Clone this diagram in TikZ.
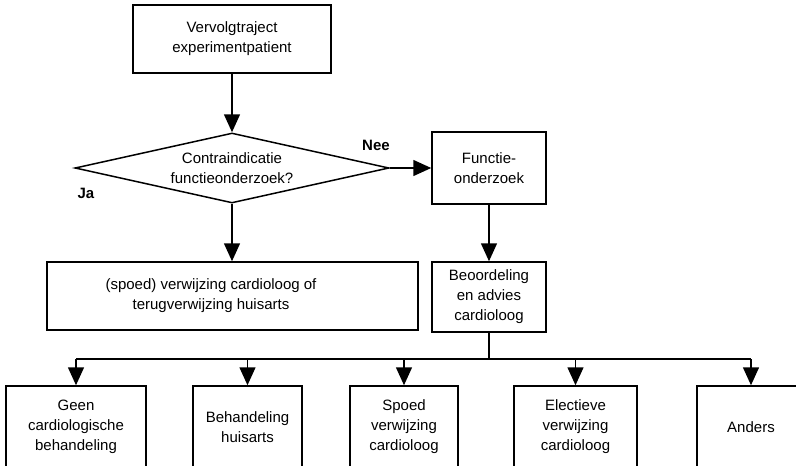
\documentclass[tikz,border=0pt]{standalone}
\usepackage{fontspec}
\setmainfont{Liberation Sans}
\usetikzlibrary{shapes.geometric,arrows.meta}
\begin{document}
\begin{tikzpicture}[x=1pt,y=-1pt,
  font=\fontsize{15}{20}\selectfont,
  box/.style={draw, line width=1.5pt, rectangle, inner sep=0pt, align=center},
  arr/.style={line width=1.5pt, -{Triangle[length=18pt,width=16pt]}},
  ln/.style={line width=1.5pt},
  lab/.style={font=\fontsize{15}{20}\selectfont\bfseries}]
\useasboundingbox (0,0) rectangle (796,466);
\clip (0,0) rectangle (796,466);
\node[box, minimum width=198pt, minimum height=68pt] (top) at (232,39) {Vervolgtraject\\experimentpatient};
\node[draw, line width=1.5pt, shape=diamond, inner sep=0pt, aspect=4.5, minimum width=314pt, minimum height=70pt, align=center] (dia) at (232,168) {Contraindicatie\\functieonderzoek?};
\node[box, minimum width=114pt, minimum height=72pt] (fun) at (489,168) {Functie-\\onderzoek};
\node[box, minimum width=114pt, minimum height=70pt] (beo) at (489,297) {Beoordeling\\en advies\\cardioloog};
\node[box, minimum width=371pt, minimum height=68pt] (left) at (232.5,296) {};
\node[align=center, inner sep=0pt] (leftt) at (211,296) {(spoed) verwijzing cardioloog of\\terugverwijzing huisarts};
\node[lab] (nee) at (376,145) {Nee};
\node[lab] (ja) at (86,193) {Ja};
\node[box, minimum width=140pt, minimum height=82pt] (b1) at (76,427) {Geen\\cardiologische\\behandeling};
\node[box, minimum width=109pt, minimum height=82pt] (b2) at (247.5,427) {Behandeling\\huisarts};
\node[box, minimum width=108pt, minimum height=82pt] (b3) at (404,427) {Spoed\\verwijzing\\cardioloog};
\node[box, minimum width=123pt, minimum height=82pt] (b4) at (575.5,427) {Electieve\\verwijzing\\cardioloog};
\node[box, minimum width=108pt, minimum height=82pt] (b5) at (751,427) {Anders};
\coordinate (bus) at (0,359);
\draw[arr] (top.south) -- (dia.north);
\draw[arr] (dia.east) -- (fun.west);
\draw[arr] (dia.south) -- (dia.south |- left.north);
\draw[arr] (fun.south) -- (beo.north);
\draw[ln] (beo.south) -- (beo.south |- bus);
\draw[ln] (b1.north |- bus) -- (b5.north |- bus);
\foreach \b in {b1,b2,b3,b4,b5} \draw[arr] (\b.north |- bus) -- (\b.north);
\end{tikzpicture}
\end{document}
